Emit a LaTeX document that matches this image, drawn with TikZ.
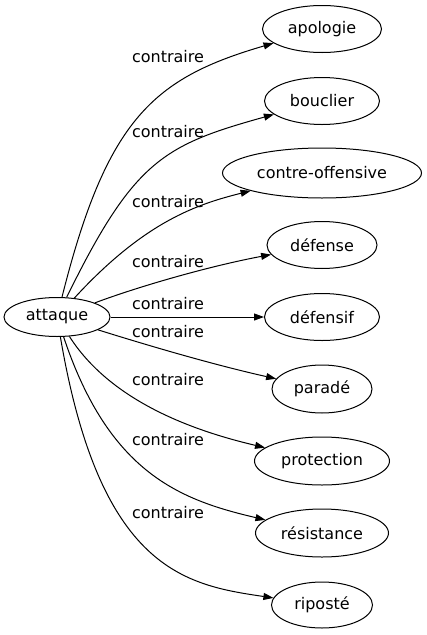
\documentclass[tikz,border=0pt]{standalone}
\usepackage{fontspec}
\setmainfont{DejaVu Sans}
\usetikzlibrary{shapes.geometric,arrows.meta}
\begin{document}
\begin{tikzpicture}[x=1pt,y=-1pt,
  every node/.style={font=\fontsize{16}{19}\selectfont},
  word/.style={ellipse, draw, line width=1pt, inner sep=0pt},
  lbl/.style={inner sep=0pt},
  edge/.style={draw, line width=1pt, -{Triangle[length=10pt,width=7pt]}}]
\useasboundingbox (0,0) rectangle (427,635);
\node[word, minimum width=106pt, minimum height=39pt] (attaque) at (57,317) {attaque};
\node[word, minimum width=119pt, minimum height=47pt] (apologie) at (322,29) {apologie};
\node[word, minimum width=115pt, minimum height=47pt] (bouclier) at (322,101) {bouclier};
\node[word, minimum width=199pt, minimum height=50pt] (contre) at (322,173) {contre-offensive};
\node[word, minimum width=110pt, minimum height=47pt] (defense) at (322,245) {défense};
\node[word, minimum width=115pt, minimum height=47pt] (defensif) at (322,317) {défensif};
\node[word, minimum width=100pt, minimum height=48pt] (parade) at (322,389) {paradé};
\node[word, minimum width=135pt, minimum height=48pt] (protection) at (322,461) {protection};
\node[word, minimum width=133pt, minimum height=48pt] (resistance) at (322,533) {résistance};
\node[word, minimum width=101pt, minimum height=46pt] (riposte) at (322,605) {riposté};

\draw[edge] (attaque) .. controls (107,118) and (154,78) .. (apologie);
\draw[edge] (attaque) .. controls (134,160) and (164,145) .. (bouclier);
\draw[edge] (attaque) .. controls (145,221) and (198,204) .. (contre);
\draw[edge] (attaque) .. controls (140,286) and (210,266) .. (defense);
\draw[edge] (attaque) -- (defensif);
\draw[edge] (attaque) .. controls (140,343) and (210,364) .. (parade);
\draw[edge] (attaque) .. controls (110,400) and (190,430) .. (protection);
\draw[edge] (attaque) .. controls (109,473) and (180,500) .. (resistance);
\draw[edge] (attaque) .. controls (100,570) and (185,585) .. (riposte);

\node[lbl] (l1) at (168,57) {contraire};
\node[lbl] (l2) at (168,132) {contraire};
\node[lbl] (l3) at (168,202) {contraire};
\node[lbl] (l4) at (168,262) {contraire};
\node[lbl] (l5) at (168,304) {contraire};
\node[lbl] (l6) at (168,332) {contraire};
\node[lbl] (l7) at (168,380) {contraire};
\node[lbl] (l8) at (168,440) {contraire};
\node[lbl] (l9) at (168,513) {contraire};
\end{tikzpicture}
\end{document}
